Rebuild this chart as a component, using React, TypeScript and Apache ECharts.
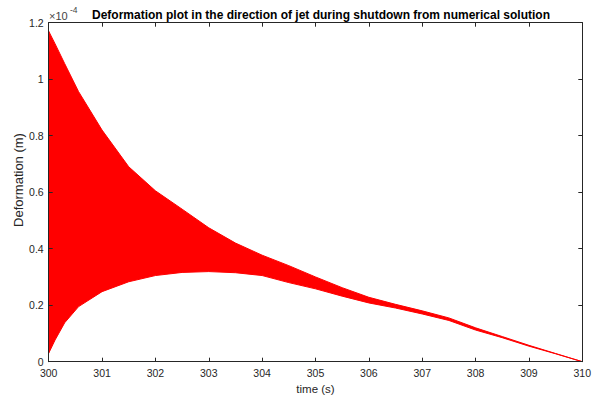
import React, { useEffect, useRef } from "react";
import * as echarts from "echarts";

// time (s)
const timeValues = [300, 300.12, 300.3, 300.56, 301, 301.5, 302, 302.5, 303, 303.5, 304, 304.5, 305, 305.5, 306, 306.5, 307, 307.5, 308, 308.5, 309, 309.5, 310];
// upper envelope of the oscillation (×1e-4 m)
const upperEnvelope = [1.17, 1.125, 1.055, 0.956, 0.82, 0.69, 0.605, 0.54, 0.474, 0.42, 0.377, 0.34, 0.3, 0.262, 0.228, 0.203, 0.18, 0.155, 0.12, 0.089, 0.058, 0.029, 0];
// lower envelope of the oscillation (×1e-4 m)
const lowerEnvelope = [0.03, 0.077, 0.138, 0.195, 0.248, 0.283, 0.305, 0.316, 0.319, 0.315, 0.305, 0.28, 0.258, 0.232, 0.208, 0.19, 0.169, 0.146, 0.112, 0.085, 0.055, 0.028, 0];

const xTicks = [300, 310];
const yTicks = [0, 1.2];

const titleText = "Deformation plot in the direction of jet during shutdown from numerical solution";
const xName = "time (s)";
const yName = "Deformation (m)";

const FONT = "'Liberation Sans', Arial, Helvetica, sans-serif";
const AXIS = "#262626";

export default function App() {
  const ref = useRef<HTMLDivElement>(null);
  useEffect(() => {
    if (!ref.current) return;
    const chart = echarts.init(ref.current, undefined, { renderer: "svg" });
    const bandData = timeValues.map((t, i) => [t, lowerEnvelope[i], upperEnvelope[i]]);
    const baseX = {
      type: "value" as const,
      min: xTicks[0],
      max: xTicks[1],
      interval: 1,
      axisLine: { show: true, onZero: false, lineStyle: { color: AXIS, width: 1 } },
      axisTick: { show: true, inside: true, length: 4, lineStyle: { color: AXIS } },
      splitLine: { show: false },
      z: 5,
    };
    const baseY = {
      type: "value" as const,
      min: yTicks[0],
      max: yTicks[1],
      interval: 0.2,
      axisLine: { show: true, onZero: false, lineStyle: { color: AXIS, width: 1 } },
      axisTick: { show: true, inside: true, length: 4, lineStyle: { color: AXIS } },
      splitLine: { show: false },
      z: 5,
    };
    chart.setOption({
      animation: false,
      backgroundColor: "#ffffff",
      textStyle: { fontFamily: FONT },
      title: {
        text: titleText,
        left: 316,
        textAlign: "center",
        top: 4,
        textStyle: { fontSize: 12, fontWeight: "bold", color: "#000", fontFamily: FONT },
      },
      grid: { left: 48.7, right: 12.7, top: 22.7, bottom: 37.3, containLabel: false },
      xAxis: [
        {
          ...baseX,
          position: "bottom",
          axisLabel: { show: true, color: AXIS, fontSize: 10.5, margin: 6, fontFamily: FONT },
        },
        { ...baseX, position: "top", axisLabel: { show: false } },
      ],
      yAxis: [
        {
          ...baseY,
          position: "left",
          axisLabel: {
            show: true,
            color: AXIS,
            fontSize: 10.5,
            margin: 5,
            fontFamily: FONT,
            formatter: (v: number) => String(parseFloat(v.toFixed(1))),
          },
        },
        { ...baseY, position: "right", axisLabel: { show: false } },
      ],
      series: [
        {
          type: "custom",
          name: "deformation",
          data: bandData,
          encode: { x: 0, y: [1, 2] },
          clip: true,
          renderItem: (params: any, api: any) => {
            if (params.dataIndex !== 0) return null;
            const upperPts = timeValues.map((t, i) => api.coord([t, upperEnvelope[i]]));
            const lowerPts = timeValues.map((t, i) => api.coord([t, lowerEnvelope[i]])).reverse();
            return {
              type: "polygon",
              shape: { points: upperPts.concat(lowerPts) },
              style: { fill: "#ff0000", stroke: "#ff0000", lineWidth: 1, lineJoin: "round" },
            };
          },
        },
      ],
      graphic: [
        {
          type: "text",
          left: 49,
          top: 10,
          style: { text: "×10", fontSize: 11, fill: "#444", fontFamily: FONT },
        },
        {
          type: "text",
          left: 70,
          top: 5,
          style: { text: "-4", fontSize: 8.5, fill: "#444", fontFamily: FONT },
        },
        {
          type: "text",
          x: 315.5,
          y: 389,
          style: { text: xName, fontSize: 11.5, fill: AXIS, fontFamily: FONT, align: "center", verticalAlign: "middle" },
        },
        {
          type: "text",
          x: 18,
          y: 180,
          rotation: Math.PI / 2,
          style: { text: yName, fontSize: 13, fill: AXIS, fontFamily: FONT, align: "center", verticalAlign: "middle" },
        },
      ],
    });
    return () => chart.dispose();
  }, []);
  return <div ref={ref} style={{ width: 595, height: 399, position: "absolute", left: 0, top: 0 }} />;
}
